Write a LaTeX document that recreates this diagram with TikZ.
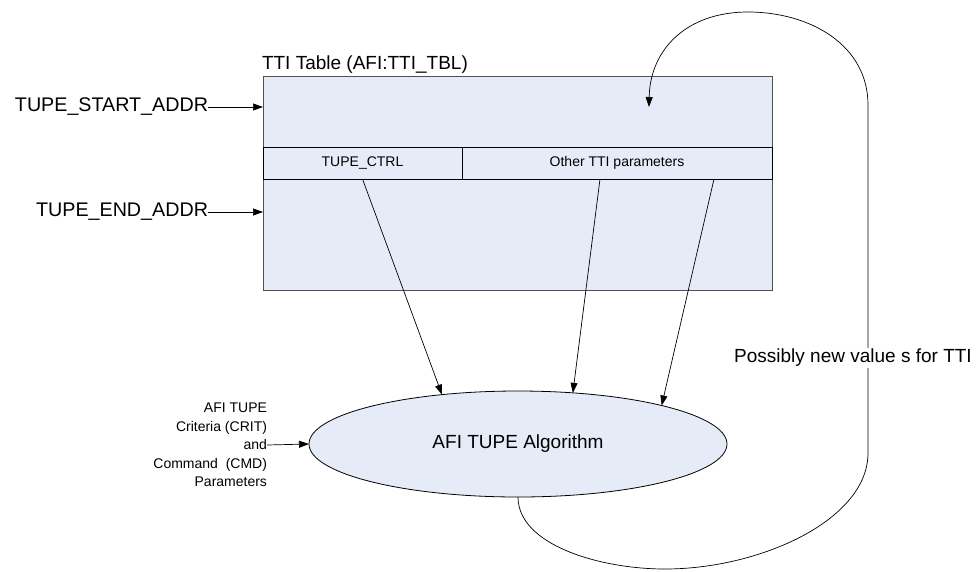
\documentclass[tikz,border=0pt]{standalone}
\usepackage{fontspec}
\setmainfont{Liberation Sans}
\usetikzlibrary{shapes.geometric,arrows.meta,calc}
\definecolor{boxfill}{RGB}{230,236,247}
\definecolor{boxline}{RGB}{80,80,80}
\begin{document}
\begin{tikzpicture}[x=1pt,y=-1pt,
  every node/.style={inner sep=0pt, outer sep=0pt},
  conn/.style={-{Triangle[length=10pt,width=7pt]}, line width=0.7pt},
  bigtext/.style={font=\fontsize{19.7}{23}\selectfont},
  midtext/.style={font=\fontsize{19}{22}\selectfont},
  smalltext/.style={font=\fontsize{14}{18.5}\selectfont},
  cell/.style={draw=black, fill=boxfill, line width=0.8pt, minimum height=32pt, smalltext}]
\useasboundingbox (0,0) rectangle (977,571);
% table
\node[draw=boxline, fill=boxfill, line width=1pt, minimum width=509pt, minimum height=214pt] (tbl) at (517.5,183) {};
\node[cell, minimum width=199pt] (ctrl) at (362.5,163) {TUPE\_CTRL};
\node[cell, minimum width=310pt] (other) at (617,163) {Other TTI parameters};
\node[midtext, anchor=west] (title) at (262,65) {TTI Table (AFI:TTI\_TBL)};
% address labels
\node[bigtext, anchor=east] (start) at (208,107) {TUPE\_START\_ADDR};
\node[bigtext, anchor=east] (endaddr) at (208,212) {TUPE\_END\_ADDR};
\draw[conn] (start.east) -- (start.east -| tbl.west);
\draw[conn] (endaddr.east) -- (endaddr.east -| tbl.west);
% algorithm
\node[ellipse, draw=black, fill=boxfill, line width=0.8pt, minimum width=418pt, minimum height=106pt, midtext] (alg) at (518,444) {AFI TUPE Algorithm};
\node[smalltext, align=right, anchor=east] (crit) at (267,445) {AFI TUPE\\Criteria (CRIT)\\and\\Command\ \ (CMD)\\Parameters};
\draw[conn] (crit.east) -- (alg.west);
% parameter arrows
\coordinate (o1) at (600,179);
\coordinate (o2) at (714,179);
\draw[conn] (ctrl.south) -- (alg.147.8);
\draw[conn] (o1) -- (alg.43.4);
\draw[conn] (o2) -- (alg.15.8);
% feedback loop
\coordinate (fb) at (649,107);
\draw[conn] (alg.south) .. controls (518,545) and (600,569) .. (665,569)
  .. controls (760,569) and (868,520) .. (868,453) -- (868,105)
  .. controls (868,45) and (810,12) .. (748,12)
  .. controls (686,12) and (650,50) .. (fb);
\node[fill=white, midtext, inner sep=1pt] (lbl) at (853,358) {Possibly new value s for TTI};
\end{tikzpicture}
\end{document}
